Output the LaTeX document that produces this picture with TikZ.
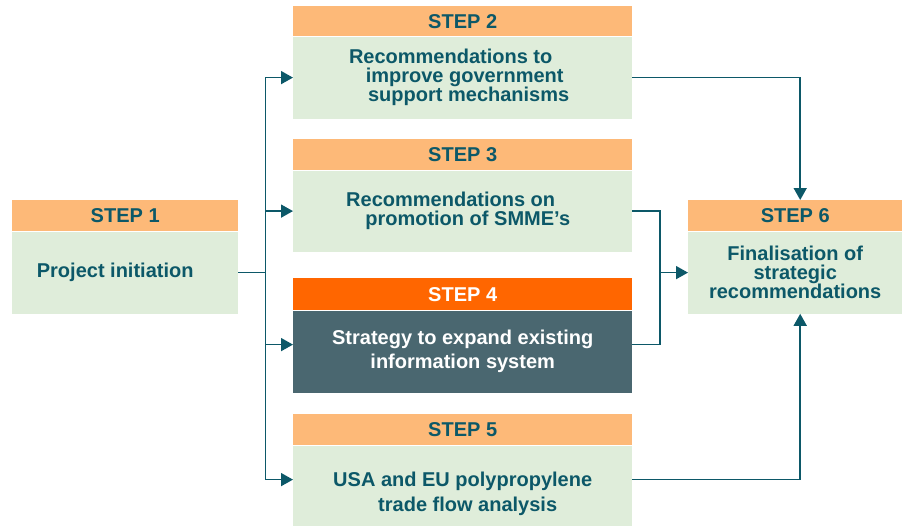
\documentclass[tikz,border=0pt]{standalone}
\usepackage{fontspec}
\setmainfont{Liberation Sans}
\usetikzlibrary{arrows.meta,positioning}
\definecolor{headorange}{HTML}{FDB978}
\definecolor{bodygreen}{HTML}{DFEDDA}
\definecolor{textteal}{HTML}{0C5868}
\definecolor{hotorange}{HTML}{FF6600}
\definecolor{slate}{HTML}{4A6770}
\tikzset{
  stephead/.style={fill=headorange, text=textteal, inner sep=0pt, minimum height=31pt,
    font=\fontsize{20}{19}\selectfont\bfseries},
  stepbody/.style={fill=bodygreen, text=textteal, inner sep=0pt, align=center,
    font=\fontsize{20}{19}\selectfont\bfseries},
  link/.style={draw=textteal, line width=1.6pt},
  arr/.style={link, -{Triangle[length=12pt,width=13pt]}}
}
\begin{document}
\begin{tikzpicture}[x=1pt,y=-1pt]
  \useasboundingbox (0,0) rectangle (902,525);
  % step 1
  \node[stephead, minimum width=226pt, anchor=north west] (h1) at (12,200) {STEP 1};
  \node[stepbody, minimum width=226pt, minimum height=82pt, below=0pt of h1] (s1) {Project initiation\hspace*{20pt}};
  % steps 2 to 5
  \node[stephead, minimum width=339pt, minimum height=30pt, anchor=north west] (h2) at (293,6) {STEP 2};
  \node[stepbody, minimum width=339pt, minimum height=82pt, below=0pt of h2] (s2) {Recommendations to\hspace*{24pt}\\\hspace*{4pt}improve government\\\hspace*{12pt}support mechanisms};
  \node[stephead, minimum width=339pt, anchor=north west] (h3) at (293,139) {STEP 3};
  \node[stepbody, minimum width=339pt, minimum height=81pt, below=0pt of h3] (s3) {Recommendations on\hspace*{24pt}\\\hspace*{10pt}promotion of SMME's};
  \node[stephead, fill=hotorange, text=white, minimum width=339pt, minimum height=32pt, anchor=north west] (h4) at (293,278) {STEP 4};
  \node[stepbody, fill=slate, text=white, minimum width=339pt, minimum height=82pt, below=0pt of h4,
    font=\fontsize{20}{24}\selectfont\bfseries] (s4) {Strategy to expand existing\\information system};
  \node[stephead, minimum width=339pt, anchor=north west] (h5) at (293,414) {STEP 5};
  \node[stepbody, minimum width=339pt, minimum height=80pt, below=0pt of h5,
    font=\fontsize{20}{25}\selectfont\bfseries] (s5) {\rule{0pt}{30pt}USA and EU polypropylene\\\hspace*{10pt}trade flow analysis};
  % step 6
  \node[stephead, minimum width=214pt, anchor=north west] (h6) at (688,200) {STEP 6};
  \node[stepbody, minimum width=214pt, minimum height=82pt, below=0pt of h6] (s6) {Finalisation of\\strategic\\recommendations};
  % connectors
  \coordinate (t) at ([xshift=27pt]s1.east);
  \coordinate (m) at ([xshift=-28pt]s6.west);
  \draw[link] (s1.east) -- (t);
  \draw[arr] (t) |- (s2.west);
  \draw[arr] (t) |- (s3.west);
  \draw[arr] (t) |- ([yshift=7pt]s4.west);
  \draw[arr] (t) |- ([yshift=6pt]s5.west);
  \draw[arr] (s2.east) -| ([xshift=5pt]h6.north);
  \draw[link] (s3.east) -| (m);
  \draw[link] ([yshift=7pt]s4.east) -| (m);
  \draw[arr] (m) -- (s6.west);
  \draw[arr] ([yshift=6pt]s5.east) -| ([xshift=5pt]s6.south);
\end{tikzpicture}
\end{document}
